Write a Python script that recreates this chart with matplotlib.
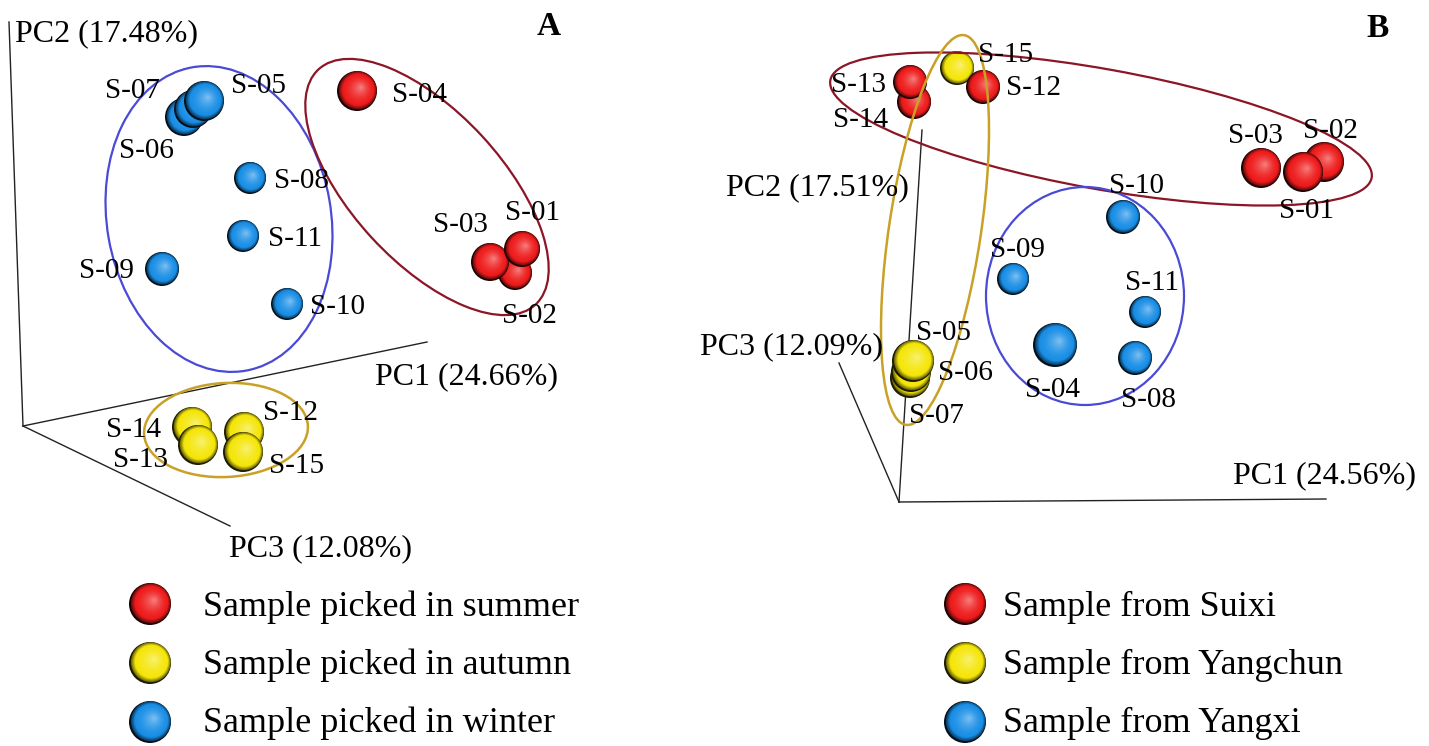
import numpy as np
import matplotlib
matplotlib.use("Agg")
import matplotlib.pyplot as plt
from matplotlib.patches import Circle, Ellipse
from matplotlib.colors import to_rgb

# ---------------- data (projected 3-D PCoA positions, screen units) ----------------
# Panel A : grouped by season
a_samples = ['S-06', 'S-07', 'S-05', 'S-04', 'S-08', 'S-11', 'S-09', 'S-10',
             'S-02', 'S-03', 'S-01', 'S-14', 'S-12', 'S-13', 'S-15']
a_groups = ['winter', 'winter', 'winter', 'summer', 'winter', 'winter', 'winter', 'winter',
            'summer', 'summer', 'summer', 'autumn', 'autumn', 'autumn', 'autumn']
a_x = [184, 193, 204, 357, 250, 243, 162, 287, 515, 490, 522, 192, 244, 198, 243]
a_y = [117, 109, 101, 91, 178, 236, 269, 304, 273, 262, 249, 427, 432, 445, 452]
a_axis_labels = ['PC1 (24.66%)', 'PC2 (17.48%)', 'PC3 (12.08%)']
a_legend = ['Sample picked in summer', 'Sample picked in autumn', 'Sample picked in winter']
a_legend_groups = ['summer', 'autumn', 'winter']

# Panel B : grouped by origin
b_samples = ['S-14', 'S-13', 'S-15', 'S-12', 'S-03', 'S-02', 'S-01', 'S-10',
             'S-09', 'S-11', 'S-04', 'S-08', 'S-07', 'S-06', 'S-05']
b_groups = ['Suixi', 'Suixi', 'Yangchun', 'Suixi', 'Suixi', 'Suixi', 'Suixi', 'Yangxi',
            'Yangxi', 'Yangxi', 'Yangxi', 'Yangxi', 'Yangchun', 'Yangchun', 'Yangchun']
b_x = [914, 910, 957, 983, 1261, 1324, 1303, 1123, 1013, 1145, 1055, 1135, 910, 911, 913]
b_y = [102, 82, 68, 87, 168, 162, 172, 217, 279, 312, 345, 358, 378, 372, 361]
b_axis_labels = ['PC1 (24.56%)', 'PC2 (17.51%)', 'PC3 (12.09%)']
b_legend = ['Sample from Suixi', 'Sample from Yangchun', 'Sample from Yangxi']
b_legend_groups = ['Suixi', 'Yangchun', 'Yangxi']

# ---------------- styles / layout ----------------
group_colors = {'summer': '#ee1c1c', 'autumn': '#f4e60a', 'winter': '#1a8fe6',
                'Suixi': '#ee1c1c', 'Yangchun': '#f4e60a', 'Yangxi': '#1a8fe6'}
a_radius = [19, 19, 20, 20, 16, 16, 17, 16, 17, 19, 18, 20, 20, 20, 20]
b_radius = [17, 17, 17, 17, 20, 20, 20, 17, 16, 16, 22, 17, 20, 20, 21]
# label anchor (left, baseline) per sample
a_label_pos = {'S-07': (105, 98), 'S-05': (231, 93), 'S-06': (119, 158), 'S-04': (392, 102),
               'S-08': (274, 188), 'S-11': (268, 246), 'S-09': (79, 278), 'S-10': (310, 314),
               'S-03': (433, 232), 'S-01': (505, 220), 'S-02': (502, 323), 'S-14': (106, 437),
               'S-13': (113, 467), 'S-12': (263, 420), 'S-15': (269, 473)}
b_label_pos = {'S-13': (831, 92), 'S-14': (833, 127), 'S-15': (978, 62), 'S-12': (1006, 95),
               'S-03': (1228, 143), 'S-02': (1303, 138), 'S-01': (1279, 218), 'S-10': (1109, 193),
               'S-09': (990, 257), 'S-11': (1125, 290), 'S-04': (1025, 397), 'S-08': (1121, 407),
               'S-05': (916, 340), 'S-06': (938, 380), 'S-07': (909, 423)}

SERIF = ['Liberation Serif', 'DejaVu Serif']
W, H = 1429, 746
fig = plt.figure(figsize=(W / 100, H / 100), dpi=100)
ax = fig.add_axes([0, 0, 1, 1])
ax.set_xlim(0, W)
ax.set_ylim(H, 0)
ax.set_aspect('equal')
ax.axis('off')


def sphere(x, y, r, color, z=3):
    base = np.array(to_rgb(color))
    white = np.ones(3)
    ax.add_patch(Circle((x, y), r, facecolor=base * 0.12, lw=0, zorder=z))
    n = 30
    for k in range(n):
        t = k / (n - 1)
        rad = r * (0.95 - 0.88 * t)
        cx = x + r * (0.04 + 0.16 * t)
        cy = y - r * (0.04 + 0.14 * t)
        if t < 0.18:
            s = t / 0.18
            c = base * (0.45 + 0.55 * s)
        else:
            s = ((t - 0.18) / 0.82) ** 1.6
            c = base * (1 - 0.4 * s) + white * 0.4 * s
        ax.add_patch(Circle((cx, cy), rad, facecolor=np.clip(c, 0, 1), lw=0, zorder=z))


def draw_axes(origin, ends, labels, label_pos):
    for e in ends:
        ax.plot([origin[0], e[0]], [origin[1], e[1]], color='#222222', lw=1.0, zorder=1)
    for lab, (lx, ly) in zip(labels, label_pos):
        ax.text(lx, ly, lab, fontsize=23, family=SERIF, ha='left', va='baseline', zorder=6)


# ---------- Panel A ----------
draw_axes((23, 426), [(427, 342), (9, 22), (230, 526)], a_axis_labels,
          [(375, 384), (15, 41), (229, 556)])
ax.add_patch(Ellipse((219, 219), 224, 308, angle=-10, fill=False, ec='#4a4ad6', lw=1.6, zorder=4))
ax.add_patch(Ellipse((427, 187), 150, 320, angle=-42.7, fill=False, ec='#8c1526', lw=1.6, zorder=4))
ax.add_patch(Ellipse((226, 430), 164, 94, angle=-3, fill=False, ec='#c9a127', lw=1.8, zorder=4))
for s, g, x, y, r in zip(a_samples, a_groups, a_x, a_y, a_radius):
    sphere(x, y, r, group_colors[g])
    lx, ly = a_label_pos[s]
    ax.text(lx, ly, s, fontsize=21, family=SERIF, ha='left', va='baseline', zorder=6)
ax.text(537, 35, 'A', fontsize=24, fontweight='bold', family=SERIF, ha='left', va='baseline')

# ---------- Panel B ----------
draw_axes((899, 502), [(1326, 499), (922, 130), (839, 363)], b_axis_labels,
          [(1233, 483), (726, 195), (700, 354)])
ax.add_patch(Ellipse((1101, 129), 550, 120, angle=10.2, fill=False, ec='#8c1526', lw=1.6, zorder=4))
ax.add_patch(Ellipse((935, 230), 92, 394, angle=8.5, fill=False, ec='#c9a127', lw=1.8, zorder=4))
ax.add_patch(Ellipse((1085, 296), 198, 218, angle=0, fill=False, ec='#4a4ad6', lw=1.6, zorder=4))
for s, g, x, y, r in zip(b_samples, b_groups, b_x, b_y, b_radius):
    sphere(x, y, r, group_colors[g])
    lx, ly = b_label_pos[s]
    ax.text(lx, ly, s, fontsize=21, family=SERIF, ha='left', va='baseline', zorder=6)
ax.text(1366, 37, 'B', fontsize=24, fontweight='bold', family=SERIF, ha='left', va='baseline')

# ---------- Legends ----------
legend_rows_y = [604, 663, 722]
legend_text_base = [616, 674, 732]
for i, (lab, g) in enumerate(zip(a_legend, a_legend_groups)):
    sphere(150, legend_rows_y[i], 21, group_colors[g])
    ax.text(203, legend_text_base[i], lab, fontsize=26, family=SERIF, ha='left', va='baseline')
for i, (lab, g) in enumerate(zip(b_legend, b_legend_groups)):
    sphere(965, legend_rows_y[i], 21, group_colors[g])
    ax.text(1003, legend_text_base[i], lab, fontsize=26, family=SERIF, ha='left', va='baseline')

fig.savefig('out.png', dpi=100, facecolor='white')
